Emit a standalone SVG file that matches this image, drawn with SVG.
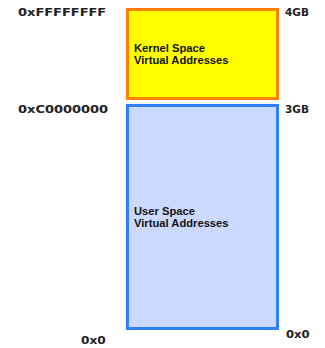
<svg xmlns="http://www.w3.org/2000/svg" width="325" height="348" viewBox="0 0 325 348">
  <style>
    .hex { font-family: "DejaVu Sans", "Liberation Sans", sans-serif; font-weight: bold; font-size: 11px; fill: #222; }
    .size { font-family: "DejaVu Sans", "Liberation Sans", sans-serif; font-weight: bold; font-size: 10.5px; fill: #222; }
    .lbl { font-family: "Liberation Sans", Arial, sans-serif; font-weight: bold; font-size: 11.2px; fill: #111; }
    .kernel { fill: #FFFF00; stroke: #FF8000; stroke-width: 3; }
    .user { fill: #CCD9FF; stroke: #2F7FFF; stroke-width: 3; }
  </style>
  <rect width="325" height="348" fill="#fff"/>

  <g id="kernel-space">
    <rect class="kernel" x="127.5" y="9.5" width="150" height="89"/>
    <text class="lbl" x="134" y="52">Kernel Space</text>
    <text class="lbl" x="134" y="64">Virtual Addresses</text>
  </g>

  <g id="user-space">
    <rect class="user" x="127.5" y="105.5" width="150" height="223"/>
    <text class="lbl" x="134" y="215">User Space</text>
    <text class="lbl" x="134" y="227">Virtual Addresses</text>
  </g>

  <!-- address labels use a horizontally widened face -->
  <g id="addresses">
    <text class="hex" transform="translate(18,16) scale(1.18,1)">0xFFFFFFFF</text>
    <text class="hex" transform="translate(18,113) scale(1.18,1)">0xC0000000</text>
    <text class="hex" transform="translate(81,344) scale(1.1,1)">0x0</text>
    <text class="hex" transform="translate(286,338) scale(1.05,1)">0x0</text>
  </g>

  <g id="sizes">
    <text class="size" x="285" y="16">4GB</text>
    <text class="size" x="285" y="113">3GB</text>
  </g>
</svg>
